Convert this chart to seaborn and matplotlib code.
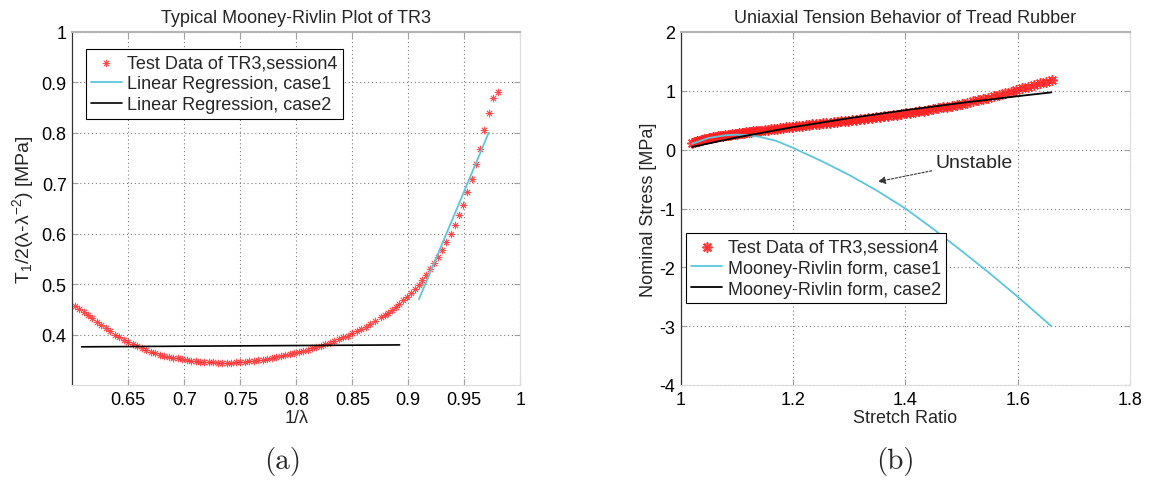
import matplotlib
matplotlib.use("Agg")
import numpy as np
import pandas as pd
import matplotlib.pyplot as plt
import seaborn as sns

# ---------------- data ----------------
# Panel (a): Mooney-Rivlin plot, x = 1/lambda, y = T1 / 2(lambda - lambda^-2)  [MPa]
inv_stretch = [
    0.602, 0.606, 0.610, 0.614, 0.618, 0.622, 0.626, 0.630, 0.634, 0.638,
    0.642, 0.646, 0.650, 0.654, 0.658, 0.662, 0.666, 0.670, 0.674, 0.678,
    0.682, 0.686, 0.690, 0.694, 0.698, 0.702, 0.706, 0.710, 0.714, 0.718,
    0.722, 0.726, 0.730, 0.734, 0.738, 0.742, 0.746, 0.750, 0.754, 0.758,
    0.762, 0.766, 0.770, 0.774, 0.778, 0.782, 0.786, 0.790, 0.794, 0.798,
    0.802, 0.806, 0.810, 0.814, 0.818, 0.822, 0.826, 0.830, 0.834, 0.838,
    0.842, 0.846, 0.850, 0.854, 0.858, 0.862, 0.866, 0.870,
    0.8759, 0.8789, 0.8822, 0.8855, 0.8888, 0.8920, 0.8953, 0.8989, 0.9021, 0.9057,
    0.9093, 0.9125, 0.9158, 0.9194, 0.9230, 0.9265, 0.9301, 0.9339, 0.9379, 0.9414,
    0.9450, 0.9488, 0.9527, 0.9566, 0.9605, 0.9640, 0.9679, 0.9718, 0.9759, 0.9798,
]
mr_stress = [
    0.4558, 0.4500, 0.4443, 0.4383, 0.4321, 0.4259, 0.4195, 0.4129, 0.4062, 0.4000,
    0.3947, 0.3893, 0.3846, 0.3807, 0.3768, 0.3730, 0.3692, 0.3660, 0.3629, 0.3598,
    0.3580, 0.3562, 0.3544, 0.3527, 0.3513, 0.3499, 0.3484, 0.3473, 0.3466, 0.3459,
    0.3452, 0.3447, 0.3444, 0.3440, 0.3437, 0.3443, 0.3450, 0.3456, 0.3463, 0.3473,
    0.3482, 0.3491, 0.3505, 0.3522, 0.3538, 0.3554, 0.3570, 0.3588, 0.3610, 0.3632,
    0.3654, 0.3676, 0.3700, 0.3725, 0.3749, 0.3778, 0.3808, 0.3837, 0.3868, 0.3906,
    0.3943, 0.3981, 0.4022, 0.4066, 0.4110, 0.4155, 0.4207, 0.4262,
    0.4343, 0.4388, 0.4436, 0.4487, 0.4547, 0.4614, 0.4680, 0.4745, 0.4818, 0.4897,
    0.4990, 0.5090, 0.5181, 0.5300, 0.5413, 0.5532, 0.5677, 0.5830, 0.6002, 0.6173,
    0.6365, 0.6570, 0.6835, 0.7093, 0.7377, 0.7688, 0.8051, 0.8388, 0.8685, 0.8818,
]

# Linear regression lines of panel (a)
reg1_x = [0.9095, 0.9718]
reg1_y = [0.470, 0.8005]
reg2_x = [0.6084, 0.8922]
reg2_y = [0.3757, 0.3795]

# Panel (b): Mooney-Rivlin model curves (nominal stress vs stretch ratio)
mr1_stretch = [1.02, 1.05, 1.08, 1.10, 1.12, 1.14, 1.17, 1.20, 1.25, 1.30,
               1.35, 1.40, 1.45, 1.50, 1.55, 1.60, 1.66]
mr1_stress = [0.10, 0.20, 0.245, 0.255, 0.245, 0.22, 0.15, 0.03, -0.19, -0.43,
              -0.70, -1.00, -1.35, -1.72, -2.10, -2.50, -3.00]
mr2_stretch = [1.02, 1.10, 1.20, 1.30, 1.40, 1.50, 1.60, 1.66]
mr2_stress = [0.045, 0.208, 0.383, 0.535, 0.671, 0.795, 0.909, 0.974]

a_xticks = [0.65, 0.7, 0.75, 0.8, 0.85, 0.9, 0.95, 1.0]
a_xticklabels = ["0.65", "0.7", "0.75", "0.8", "0.85", "0.9", "0.95", "1"]
a_yticks = [0.4, 0.5, 0.6, 0.7, 0.8, 0.9, 1.0]
a_yticklabels = ["0.4", "0.5", "0.6", "0.7", "0.8", "0.9", "1"]
b_xticks = [1.0, 1.2, 1.4, 1.6, 1.8]
b_xticklabels = ["1", "1.2", "1.4", "1.6", "1.8"]
b_yticks = [-4, -3, -2, -1, 0, 1, 2]
b_yticklabels = ["-4", "-3", "-2", "-1", "0", "1", "2"]

# Test data in the stretch / nominal-stress form (same measurements as panel a)
inv = np.array(inv_stretch)
lam = 1.0 / inv
nominal_stress = 2.0 * np.array(mr_stress) * (lam - lam ** -2)
df_a = pd.DataFrame({"x": inv, "y": mr_stress})
df_b = pd.DataFrame({"x": lam, "y": nominal_stress})

# ---------------- style ----------------
sns.set_style("white")
plt.rcParams["font.family"] = ["Liberation Sans", "DejaVu Sans"]
plt.rcParams["axes.unicode_minus"] = False
plt.rcParams["mathtext.fontset"] = "custom"
plt.rcParams["mathtext.rm"] = "Liberation Sans"
plt.rcParams["mathtext.it"] = "Liberation Sans:italic"
plt.rcParams["mathtext.default"] = "regular"

RED = "#ff2020"
CYAN = "#5cc6dc"
FS = 13

fig = plt.figure(figsize=(11.53, 4.81), dpi=100)
W, H = 1153.0, 481.0
axA = fig.add_axes([72.3 / W, 95 / H, 448 / W, 353 / H])
axB = fig.add_axes([680.7 / W, 95 / H, 449.3 / W, 353 / H])

star = (8, 2, 0)

# Panel (a)
sns.scatterplot(data=df_a, x="x", y="y", ax=axA, marker=star, color=RED, s=24,
                linewidth=0.6, alpha=0.8, label="Test Data of TR3,session4", zorder=2)
sns.lineplot(x=reg1_x, y=reg1_y, ax=axA, color=CYAN, linewidth=1.3,
             estimator=None, label="Linear Regression, case1", zorder=3)
sns.lineplot(x=reg2_x, y=reg2_y, ax=axA, color="black", linewidth=1.2,
             estimator=None, label="Linear Regression, case2", zorder=3)

# Panel (b)
sns.scatterplot(data=df_b, x="x", y="y", ax=axB, marker=star, color=RED, s=44,
                linewidth=1.2, alpha=0.9, label="Test Data of TR3,session4", zorder=2)
sns.lineplot(x=mr1_stretch, y=mr1_stress, ax=axB, color=CYAN, linewidth=1.3,
             estimator=None, label="Mooney-Rivlin form, case1", zorder=3)
sns.lineplot(x=mr2_stretch, y=mr2_stress, ax=axB, color="black", linewidth=1.3,
             estimator=None, label="Mooney-Rivlin form, case2", zorder=3)


def style(ax, xt, xtl, yt, ytl, xlim, ylim):
    ax.set_xlim(*xlim)
    ax.set_ylim(*ylim)
    ax.set_xticks(xt)
    ax.set_xticklabels(xtl)
    ax.set_yticks(yt)
    ax.set_yticklabels(ytl)
    ax.grid(True, color="#7d7d7d", linestyle=(0, (1, 2.5)), linewidth=0.8)
    ax.set_axisbelow(True)
    ax.tick_params(direction="in", length=4, width=0.8, top=True, right=True,
                   bottom=True, left=True, labelsize=FS, pad=4,
                   colors="#a0a0a0", labelcolor="black")
    for t in ax.yaxis.get_major_ticks():
        t.tick1line.set_color("#333333")
    ax.spines["left"].set_color("#333333")
    ax.spines["left"].set_linewidth(0.9)
    ax.spines["bottom"].set_color("#dcdcdc")
    ax.spines["right"].set_color("#dcdcdc")
    ax.spines["top"].set_color("#b4b4b4")
    ax.spines["top"].set_linewidth(1.5)
    for s in ax.spines.values():
        s.set_visible(True)


style(axA, a_xticks, a_xticklabels, a_yticks, a_yticklabels, (0.6, 1.0), (0.3, 1.0))
style(axB, b_xticks, b_xticklabels, b_yticks, b_yticklabels, (1.0, 1.8), (-4, 2))

axA.set_title("Typical Mooney-Rivlin Plot of TR3", fontsize=FS, pad=7)
axB.set_title("Uniaxial Tension Behavior of Tread Rubber", fontsize=FS, pad=7)
axA.set_xlabel("1/λ", fontsize=FS)
axA.set_ylabel("T$_1$/2(λ-λ$^{-2}$) [MPa]", fontsize=14)
axB.set_xlabel("Stretch Ratio", fontsize=FS)
axB.set_ylabel("Nominal Stress [MPa]", fontsize=FS)
axA.xaxis.set_label_coords(0.5, -0.068)
axB.xaxis.set_label_coords(0.5, -0.068)
axA.yaxis.set_label_coords(-0.082, 0.5)
axB.yaxis.set_label_coords(-0.053, 0.5)

leg_kw = dict(loc="upper left", borderaxespad=0, frameon=True, fancybox=False,
              edgecolor="black", fontsize=FS, handlelength=1.7, handletextpad=0.3,
              labelspacing=0.22, borderpad=0.3, scatterpoints=1, framealpha=1)
legA = axA.legend(bbox_to_anchor=(0.0297, 0.952), **leg_kw)
legB = axB.legend(bbox_to_anchor=(0.0118, 0.43), **leg_kw)
for lg in (legA, legB):
    lg.get_frame().set_linewidth(0.8)

axB.annotate("Unstable", xy=(1.351, -0.544), xytext=(1.4528, -0.215),
             ha="left", va="center", fontsize=14,
             arrowprops=dict(arrowstyle="-|>", color="#333333", lw=0.8,
                             linestyle=(0, (2, 1.5)), shrinkA=0, shrinkB=0,
                             mutation_scale=11))

fig.text(283 / W, 1 - 462 / H, "(a)", fontfamily="cmr10", fontsize=21,
         ha="center", va="center")
fig.text(895 / W, 1 - 462 / H, "(b)", fontfamily="cmr10", fontsize=21,
         ha="center", va="center")

fig.savefig("out.png", dpi=100)
